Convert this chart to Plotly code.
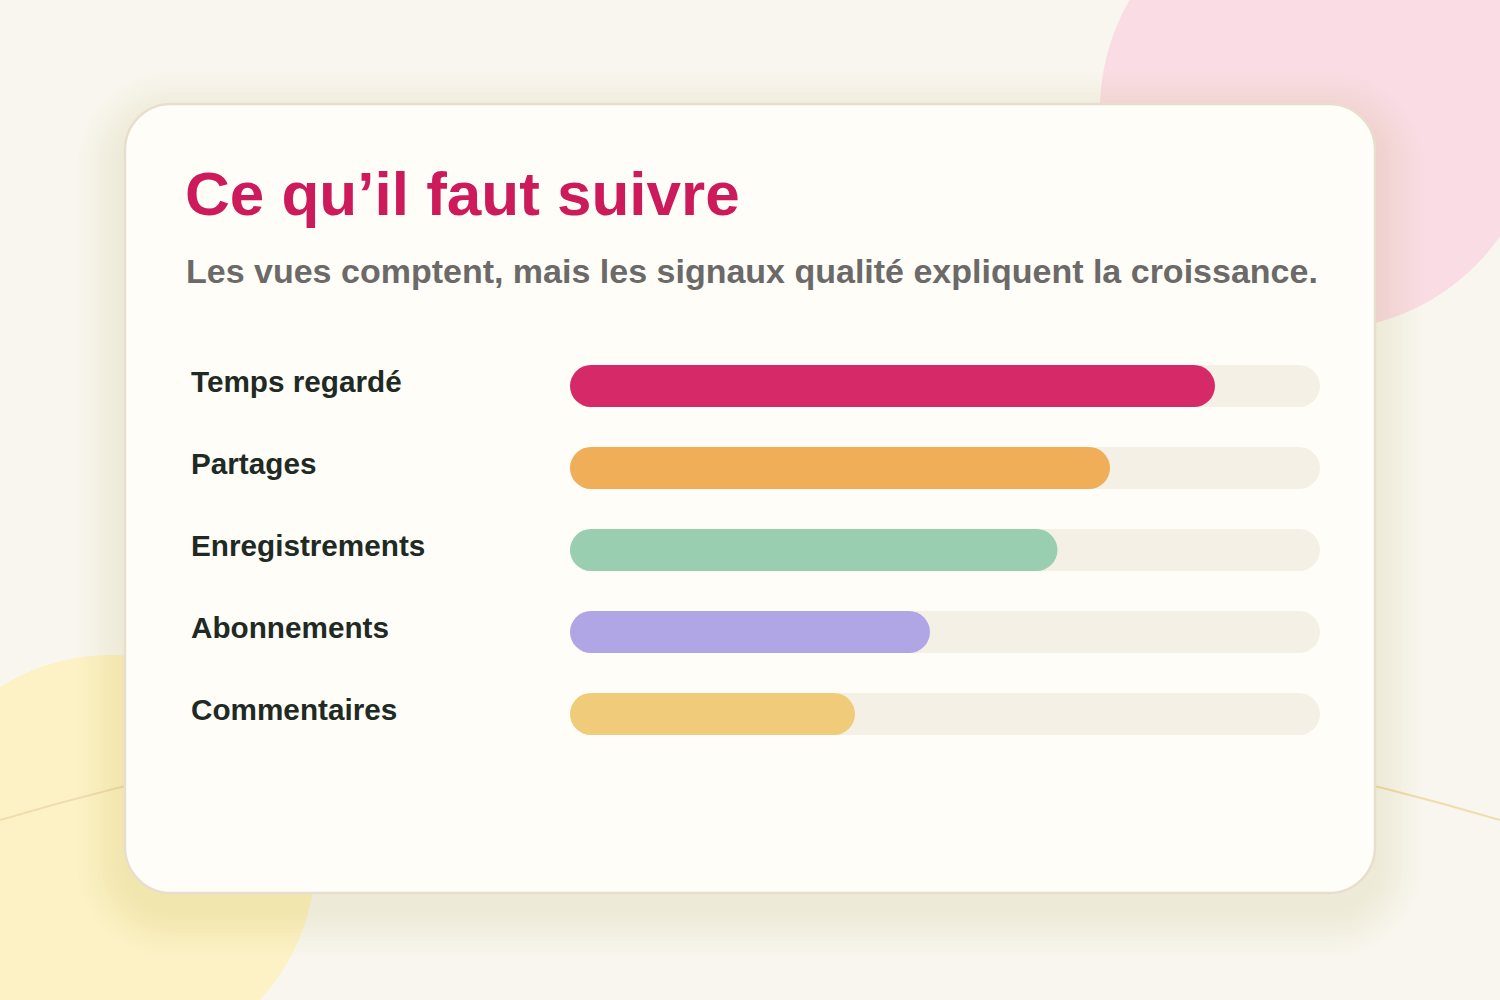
import plotly.graph_objects as go

# ---- data ----
categories = ["Temps regardé", "Partages", "Enregistrements", "Abonnements", "Commentaires"]
values = [86, 72, 65, 48, 38]
track_max = [100, 100, 100, 100, 100]
bar_colors = ["#D62A68", "#F0AE58", "#99CEB0", "#B0A6E6", "#F0CB7A"]
title_text = "Ce qu’il faut suivre"
subtitle_text = "Les vues comptent, mais les signaux qualité expliquent la croissance."

W, H = 1500, 1000
FONT = "Liberation Sans, Arial, sans-serif"
PAGE_BG = "#F9F6EF"
CARD_BG = "#FFFDF8"
TRACK = "#F4F0E6"


def X(x):
    return x / W


def Y(y):
    return 1 - y / H


def rrect(x0, y0, x1, y1, r):
    k = 0.5523 * r
    pts = [
        ("M", [(x0 + r, y0)]),
        ("L", [(x1 - r, y0)]),
        ("C", [(x1 - r + k, y0), (x1, y0 + r - k), (x1, y0 + r)]),
        ("L", [(x1, y1 - r)]),
        ("C", [(x1, y1 - r + k), (x1 - r + k, y1), (x1 - r, y1)]),
        ("L", [(x0 + r, y1)]),
        ("C", [(x0 + r - k, y1), (x0, y1 - r + k), (x0, y1 - r)]),
        ("L", [(x0, y0 + r)]),
        ("C", [(x0, y0 + r - k), (x0 + r - k, y0), (x0 + r, y0)]),
    ]
    s = ""
    for cmd, ps in pts:
        s += cmd + " ".join(f"{X(px):.5f},{Y(py):.5f}" for px, py in ps) + " "
    return s + "Z"


shapes = []
# background circles
shapes.append(dict(type="circle", xref="paper", yref="paper", layer="below",
                   x0=X(1100), x1=X(1540), y0=Y(330), y1=Y(-110),
                   fillcolor="#FADDE4", line=dict(width=0)))
shapes.append(dict(type="circle", xref="paper", yref="paper", layer="below",
                   x0=X(110 - 205), x1=X(110 + 205), y0=Y(860 + 205), y1=Y(860 - 205),
                   fillcolor="#FDF2C6", line=dict(width=0)))
# thin curve
shapes.append(dict(type="path", xref="paper", yref="paper", layer="below",
                   path=f"M{X(0)},{Y(820)} Q{X(750)},{Y(598)} {X(1500)},{Y(820)}",
                   line=dict(color="#F0DDAE", width=2)))
# card shadow
cx0, cy0, cx1, cy1, cr = 125, 104, 1375, 893, 46
for i in range(12):
    e = 4 + i * 4
    dy = 16
    shapes.append(dict(type="path", xref="paper", yref="paper", layer="below",
                       path=rrect(cx0 - e, cy0 - e + dy, cx1 + e, cy1 + e + dy, cr + e),
                       fillcolor="rgba(120,90,60,1)", opacity=0.0065, line=dict(width=0)))
# card
shapes.append(dict(type="path", xref="paper", yref="paper", layer="below",
                   path=rrect(cx0, cy0, cx1, cy1, cr),
                   fillcolor=CARD_BG, line=dict(color="#E8DECD", width=2.5)))

fig = go.Figure()

bw = 42 / 82


def add_rounded(vals, colors):
    fig.add_trace(go.Bar(y=categories, x=vals, base=[0] * len(vals), orientation="h", width=bw,
                         marker=dict(color=colors, cornerradius=21, line=dict(width=0)),
                         hoverinfo="skip", showlegend=False))


add_rounded(track_max, [TRACK] * len(categories))
add_rounded(values, bar_colors)

annotations = [
    dict(xref="paper", yref="paper", x=X(183), y=Y(193), xanchor="left", yanchor="middle",
         text=f"<b>{title_text}</b>", showarrow=False,
         font=dict(family=FONT, size=62, color="#CC1A5B")),
    dict(xref="paper", yref="paper", x=X(184), y=Y(271), xanchor="left", yanchor="middle",
         text=f"<b>{subtitle_text}</b>", showarrow=False,
         font=dict(family=FONT, size=34, color="#6B6A69")),
]
for c in categories:
    annotations.append(dict(xref="paper", yref="y", x=X(189), y=c, xanchor="left", yanchor="middle",
                            yshift=5, text=f"<b>{c}</b>", showarrow=False,
                            font=dict(family=FONT, size=29.7, color="#1F2A24")))

fig.update_layout(
    width=W, height=H,
    margin=dict(l=0, r=0, t=0, b=0),
    paper_bgcolor=PAGE_BG, plot_bgcolor="rgba(0,0,0,0)",
    barmode="overlay",
    shapes=shapes, annotations=annotations,
    xaxis=dict(domain=[X(570), X(1320)], range=[0, 100], visible=False, fixedrange=True),
    yaxis=dict(domain=[Y(755), Y(345)], type="category", categoryorder="array",
               categoryarray=categories, range=[4.5, -0.5], visible=False, fixedrange=True),
    showlegend=False,
)

fig.write_html("out.html", config={"displayModeBar": False})
